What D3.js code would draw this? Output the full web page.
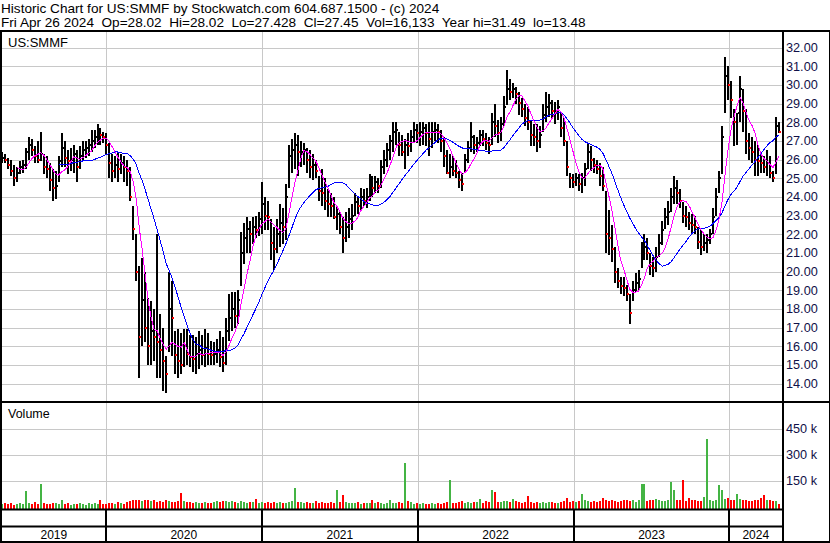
<!DOCTYPE html>
<html><head><meta charset="utf-8">
<script src="https://cdn.jsdelivr.net/npm/d3@7"></script>
<style>
body{margin:0;background:#fff}
svg text{font-family:"Liberation Sans",Arial,sans-serif}
</style>
</head><body>
<svg id="c" width="830" height="543"></svg>
<script>
// ---- data (weekly bars, first bar week ending Fri 2019-05-03) ----
const firstWeek = "2019-05-03";
const hi = [
26.4,26.3,26.1,26.0,25.7,25.6,25.9,26.0,26.6,27.2,
27.1,26.7,27.0,27.5,26.3,26.2,25.8,25.5,25.4,26.2,
27.4,27.0,26.5,26.6,26.8,26.5,26.7,27.0,27.0,27.1,
27.6,27.6,27.9,27.7,27.5,27.4,26.9,26.3,26.2,26.4,
26.3,26.2,26.0,25.6,23.5,22.0,20.3,20.7,20.0,18.6,
18.4,18.0,22.0,17.7,17.0,15.5,20.0,19.5,16.8,16.9,
16.7,16.9,16.9,16.6,16.6,16.5,16.8,16.6,16.9,16.7,
16.3,16.2,16.4,16.8,16.5,17.5,18.8,18.9,18.9,19.0,
22.1,22.6,22.9,22.7,22.9,23.0,23.2,24.8,24.0,23.8,
22.8,22.4,22.8,23.6,23.4,24.7,26.8,27.1,27.4,27.3,
27.0,26.9,26.6,26.5,26.3,26.0,25.1,25.5,25.0,24.4,
24.2,24.0,23.5,23.2,22.9,23.2,23.4,23.6,24.2,24.0,
24.5,24.4,24.5,25.2,25.1,25.1,25.0,26.0,26.5,26.9,
27.3,28.0,28.0,27.5,27.3,27.1,27.4,27.6,28.0,27.9,
28.0,28.0,27.9,28.0,28.0,28.0,27.9,27.6,27.2,26.5,
26.3,26.2,26.0,25.4,25.3,26.3,27.0,28.0,27.3,27.2,
27.6,27.6,27.4,27.2,28.5,29.0,28.1,28.3,29.4,30.8,
30.3,30.1,29.9,29.6,29.3,29.0,28.8,28.1,27.9,27.9,
27.8,29.0,29.6,29.5,29.2,29.1,29.2,28.5,28.2,27.0,
25.3,25.2,25.3,25.2,25.3,25.8,26.9,26.7,26.1,26.0,
25.8,25.6,24.3,23.3,22.5,21.3,20.2,19.7,19.7,19.3,
18.8,19.5,19.9,20.1,21.6,22.0,21.8,21.0,20.8,21.3,
22.0,22.7,23.4,23.8,24.5,25.1,24.9,24.4,23.7,23.5,
23.2,23.1,23.0,22.4,22.2,22.0,22.0,22.3,23.4,24.5,
25.4,27.8,31.49,31.0,30.2,28.7,28.5,30.5,29.8,28.7,
27.4,27.2,27.0,26.8,26.3,26.2,26.5,26.2,25.4,28.3,
28.02];
const lo = [
25.8,25.8,25.5,25.1,24.6,24.8,25.2,25.3,25.5,26.0,
26.2,25.8,25.8,25.9,25.2,25.0,24.3,23.8,23.9,24.8,
25.6,25.6,25.2,25.4,25.3,24.8,25.5,26.0,26.1,26.2,
26.4,26.6,26.8,26.8,26.9,26.3,25.0,24.8,25.0,24.8,
25.2,24.8,24.6,23.8,21.7,19.5,14.3,16.0,16.2,15.0,
15.0,15.2,14.3,14.3,13.6,13.48,15.7,15.5,14.5,14.3,
14.5,14.9,15.0,14.9,14.6,14.5,14.8,15.0,14.9,15.0,
15.0,15.0,15.1,14.9,14.6,15.0,16.3,16.8,17.0,17.2,
19.2,20.4,21.0,21.0,21.5,21.8,21.9,22.0,22.2,22.2,
20.6,20.1,21.0,21.3,21.5,21.7,24.5,25.3,25.5,25.1,
25.6,25.7,25.3,25.0,24.9,25.0,23.8,23.5,23.3,22.9,
22.9,22.8,22.2,22.0,21.0,21.6,21.8,22.2,23.0,23.1,
23.3,23.5,23.4,23.8,24.0,24.2,24.2,24.5,25.2,25.6,
26.0,26.4,26.8,26.2,26.2,25.5,26.2,26.4,26.9,26.9,
26.7,26.8,26.7,26.2,26.6,27.0,26.9,26.4,25.6,25.2,
25.0,25.1,25.0,24.5,24.3,25.3,25.8,26.4,26.3,26.4,
26.7,26.7,26.5,26.3,26.8,27.2,26.9,27.0,27.8,28.9,
29.2,29.3,29.0,28.4,28.3,27.8,27.6,26.7,26.7,26.4,
26.6,27.5,28.0,28.3,28.2,27.9,28.1,27.2,26.7,25.1,
24.5,24.5,24.6,24.3,24.2,24.6,25.5,25.4,25.3,25.2,
24.6,24.3,21.0,20.9,20.5,19.4,19.1,18.8,18.7,18.4,
17.2,18.4,18.9,19.0,20.2,20.6,20.6,19.8,19.7,20.0,
20.8,21.4,22.3,22.5,23.2,23.6,23.6,23.4,22.6,22.4,
22.2,22.0,22.0,21.2,20.9,21.1,21.0,21.5,22.0,23.0,
24.2,25.2,28.5,29.2,28.2,26.7,26.8,28.0,27.5,26.3,
26.0,25.8,25.1,25.1,25.3,25.3,25.1,25.0,24.8,25.2,
27.428];
const cl = [
26.1,26.0,25.7,25.4,25.0,25.3,25.6,25.7,26.4,26.8,
26.5,26.2,26.0,26.3,25.6,25.5,24.9,24.5,24.6,25.9,
26.6,26.1,25.9,26.0,26.3,25.6,26.2,26.5,26.6,26.8,
27.0,27.2,27.4,27.3,27.2,26.8,25.8,25.4,25.7,25.5,
25.8,25.6,25.4,24.0,22.3,20.0,16.5,18.5,17.0,16.0,
16.8,16.5,16.2,15.8,15.2,14.5,18.0,17.5,15.5,15.2,
15.0,16.0,15.6,15.4,15.3,15.6,15.8,15.5,15.9,15.6,
15.5,15.6,15.8,15.4,15.1,16.8,17.5,18.0,17.6,18.5,
21.0,21.8,22.3,22.0,22.4,22.2,22.8,23.6,23.0,22.9,
21.5,21.2,22.0,22.6,22.4,24.0,26.2,26.5,26.8,26.4,
26.4,26.5,26.0,25.6,25.7,25.4,24.3,24.2,23.8,23.6,
23.5,22.9,23.1,22.4,21.8,22.4,22.8,23.0,23.7,23.5,
24.0,23.8,24.0,24.6,24.5,24.8,24.6,25.6,26.0,26.5,
27.0,27.5,27.6,26.8,26.4,26.8,26.7,27.2,27.6,27.4,
27.5,27.7,27.4,27.1,27.5,27.6,27.5,27.0,26.2,25.3,
25.6,25.4,25.3,24.9,24.7,26.0,26.6,27.2,26.8,26.9,
27.3,27.1,26.9,26.8,28.0,27.8,27.4,27.9,28.8,29.8,
29.6,29.8,29.5,29.0,28.7,28.2,28.0,27.3,27.2,27.0,
27.3,28.4,28.8,29.0,28.6,28.5,28.8,27.7,27.0,25.6,
25.0,24.8,25.0,24.7,25.0,25.5,26.4,26.0,25.7,25.5,
25.1,24.6,22.0,21.8,21.2,20.0,19.5,19.2,19.1,18.8,
17.8,19.0,19.4,19.6,21.0,21.3,21.0,20.3,20.2,20.8,
21.5,22.2,22.9,23.2,24.0,24.5,24.2,23.8,23.0,22.9,
22.6,22.5,22.4,21.6,21.3,21.5,21.7,22.0,22.9,24.0,
25.0,27.2,30.5,30.0,29.2,28.0,28.5,29.8,28.6,27.0,
26.6,26.4,26.0,25.9,25.8,25.6,25.8,25.3,25.0,27.8,
27.45];
// volume, thousands of shares
const vol = [
14,18,12,20,10,16,22,12,89,18,
15,24,12,128,20,16,14,22,18,12,
35,14,18,10,16,12,20,15,10,18,
14,20,12,35,16,14,22,18,12,25,
20,16,28,30,35,40,38,32,40,36,
30,38,28,32,26,36,30,28,25,30,
77,30,24,28,20,26,18,22,25,20,
18,26,30,28,32,30,24,30,28,22,
30,26,20,28,24,44,22,28,18,24,
20,24,18,26,20,22,28,30,106,26,
24,20,26,18,22,30,20,24,18,22,
28,20,95,24,64,26,22,18,20,24,
16,22,18,20,40,18,24,20,16,22,
35,18,20,26,22,252,30,25,16,18,
14,18,12,16,20,14,18,16,22,26,
151,20,18,24,30,22,28,20,26,24,
44,22,30,24,93,83,28,26,34,30,
24,44,30,26,22,28,60,24,20,26,
22,28,20,24,26,20,18,24,30,48,
28,34,26,30,70,36,30,28,34,26,
32,48,36,30,40,34,28,32,36,40,
30,36,28,40,128,128,34,40,36,42,
38,30,34,40,139,93,36,40,155,32,
48,36,40,30,34,55,390,40,30,36,
126,93,44,50,38,40,73,44,36,40,
34,30,38,40,50,65,36,40,30,32,
16];
const maFast = 6, maSlow = 20;   // moving-average periods (weeks)
const priceTicks = [14,15,16,17,18,19,20,21,22,23,24,25,26,27,28,29,30,31,32];
const volTicks = [150,300,450];
const yearLabels = ["2019","2020","2021","2022","2023","2024"];
const titleLine1 = "Historic Chart for US:SMMF by Stockwatch.com 604.687.1500 - (c) 2024";
const titleLine2 = "Fri Apr 26 2024  Op=28.02  Hi=28.02  Lo=27.428  Cl=27.45  Vol=16,133  Year hi=31.49  lo=13.48";
const symbol = "US:SMMF";

// ---- layout ----
const W = 830, H = 543;
const L = 2, R = 782;
const pTop = 32, pBot = 401;
const vTop = 403, vBot = 508.5;
const svg = d3.select("#c");
const parse = d3.timeParse("%Y-%m-%d");
const d0 = parse(firstWeek);
const data = cl.map((c,i)=>({date:d3.timeDay.offset(d0,7*i),hi:hi[i],lo:lo[i],cl:c,vol:vol[i],
  up: i===0 ? true : c >= cl[i-1]}));

const x = d3.scaleTime().domain([parse("2019-05-01"), parse("2024-04-26")]).range([1,779]);
const y = d3.scaleLinear().domain([14,32]).range([383.5,47.5]);
const yv = d3.scaleLinear().domain([0,450]).range([506.5,428.5]);

svg.append("rect").attr("width",W).attr("height",H).attr("fill","#fff");

svg.append("text").attr("x",1).attr("y",12.5).attr("font-size",13.6).text(titleLine1);
svg.append("text").attr("x",1).attr("y",27).attr("font-size",13.6).style("white-space","pre").text(titleLine2);

const yearStarts = yearLabels.slice(1).map(s=>parse(s+"-01-01"));
const gridC = "#c8c8c8";
const axisFont = "Liberation Sans, Arial, sans-serif";

const pAxis = d3.axisRight(y).tickValues(priceTicks).tickFormat(d3.format(".2f")).tickSize(-(R-L)).tickPadding(4);
const pa = svg.append("g").attr("transform",`translate(${R},0)`).call(pAxis);
pa.select(".domain").remove();
pa.selectAll(".tick line").attr("stroke",gridC).attr("shape-rendering","crispEdges");
pa.selectAll(".tick text").attr("fill","#101048").attr("font-size",12.7).attr("font-family",axisFont);

const vAxis = d3.axisRight(yv).tickValues(volTicks).tickFormat(d=>d+" k").tickSize(-(R-L)).tickPadding(4);
const va = svg.append("g").attr("transform",`translate(${R},0)`).call(vAxis);
va.select(".domain").remove();
va.selectAll(".tick line").attr("stroke",gridC).attr("shape-rendering","crispEdges");
va.selectAll(".tick text").attr("fill","#101048").attr("font-size",12.7).attr("font-family",axisFont);

const xg1 = d3.axisBottom(x).tickValues(yearStarts).tickSize(pBot-pTop).tickFormat("");
const g1 = svg.append("g").attr("transform",`translate(0,${pTop})`).call(xg1);
g1.select(".domain").remove();
g1.selectAll(".tick line").attr("stroke",gridC).attr("shape-rendering","crispEdges");
const xg2 = d3.axisBottom(x).tickValues(yearStarts).tickSize(vBot-vTop).tickFormat("");
const g2 = svg.append("g").attr("transform",`translate(0,${vTop})`).call(xg2);
g2.select(".domain").remove();
g2.selectAll(".tick line").attr("stroke",gridC).attr("shape-rendering","crispEdges");

svg.append("text").attr("x",8).attr("y",46.5).attr("font-size",13).text(symbol);
svg.append("text").attr("x",8).attr("y",418).attr("font-size",12.5).text("Volume");

// price bars (high-low, 2px) with a 1px close tick on the right: red on down weeks
const bars = svg.append("g").attr("shape-rendering","crispEdges");
bars.selectAll("rect.hl").data(data).join("rect").attr("class","hl")
  .attr("x",d=>Math.round(x(d.date))-1).attr("width",2)
  .attr("y",d=>y(d.hi)).attr("height",d=>Math.max(1,y(d.lo)-y(d.hi)))
  .attr("fill","#000");
bars.selectAll("rect.cd").data(data).join("rect").attr("class","cd")
  .attr("x",d=>Math.round(x(d.date))+1).attr("width",1)
  .attr("y",d=>Math.round(y(d.cl))-1).attr("height",2)
  .attr("fill",d=>d.up?"#000":"#ff0000");
bars.selectAll("rect.cr").data(data.filter(d=>!d.up)).join("rect").attr("class","cr")
  .attr("x",d=>Math.round(x(d.date))).attr("width",1)
  .attr("y",d=>Math.round(y(d.cl))-1).attr("height",2).attr("fill","#ff0000");

function sma(n){
  return data.map((d,i)=> i<n-1 ? null : {date:d.date, v:d3.mean(cl.slice(i-n+1,i+1))}).filter(Boolean);
}
const line = d3.line().x(d=>x(d.date)).y(d=>y(d.v));
svg.append("path").datum(sma(maSlow)).attr("d",line).attr("fill","none").attr("stroke","#0000ff").attr("stroke-width",1).attr("shape-rendering","crispEdges");
svg.append("path").datum(sma(maFast)).attr("d",line).attr("fill","none").attr("stroke","#ff00ff").attr("stroke-width",1).attr("shape-rendering","crispEdges");

svg.append("g").attr("shape-rendering","crispEdges").selectAll("rect").data(data).join("rect")
  .attr("x",d=>Math.round(x(d.date))-1).attr("width",2)
  .attr("y",d=>yv(d.vol)).attr("height",d=>vBot-yv(d.vol))
  .attr("fill",d=>d.up?"#44b444":"#ff0000");

const blk = (xx,yy,w,h)=>svg.append("rect").attr("x",xx).attr("y",yy).attr("width",w).attr("height",h).attr("fill","#000");
blk(0,30,W,2);
blk(0,30,2,H-30);
blk(R,30,2,H-30);
blk(0,401,W,2);
blk(0,508.5,R+2,2);
blk(0,525.5,R+2,2);
blk(0,541,W,2);
blk(W-1,30,1,H-30);
yearStarts.forEach(d=>blk(Math.round(x(d))-1,510,2,31));
const bounds = [L].concat(yearStarts.map(d=>x(d))).concat([R]);
svg.append("g").selectAll("text").data(yearLabels).join("text")
  .attr("x",(d,i)=>(bounds[i]+bounds[i+1])/2).attr("y",538.5)
  .attr("text-anchor","middle").attr("font-size",12).text(d=>d);
</script>
</body></html>
